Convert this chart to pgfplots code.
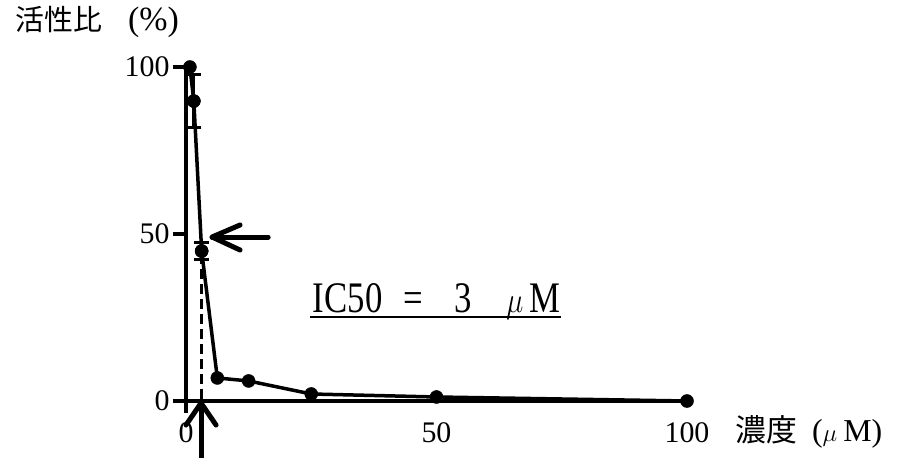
\documentclass[border=0pt]{standalone}
\usepackage{pgfplots}
\pgfplotsset{compat=1.18}
\usepackage{fontspec}
\usepackage{graphicx}
\setmainfont{Liberation Serif}
\newfontfamily\cjk{Noto Sans CJK JP}
\begin{document}
\begin{tikzpicture}
\begin{axis}[
  scale only axis, width=501bp, height=334bp,
  xmin=0, xmax=100, ymin=0, ymax=100,
  axis x line*=bottom, axis y line*=left,
  axis line style={line width=3.5bp, black},
  xtick={0,50,100}, ytick={0,50,100},
  xtick style={draw=none},
  ytick style={line width=3.5bp, black},
  tick align=outside, major tick length=13bp,
  tick label style={font=\fontsize{30}{32}\selectfont},
  /pgf/number format/assume math mode=true,
  xticklabel style={yshift=-5bp},
  clip=false,
]
\addplot[black, line width=3.5bp, mark=*, mark size=6.5bp, mark options={line width=0.5bp}]
  coordinates {(0.78,100)(1.56,89.8)(3.125,44.9)(6.25,6.9)(12.5,6.0)(25,2.1)(50,1.2)(100,0)};
\addplot[black, only marks, mark=*, mark size=6.5bp, mark options={line width=0.5bp},
  error bars/.cd, y dir=both, y explicit,
  error bar style={line width=3bp, black},
  error mark=-,
  error mark options={rotate=90, mark size=7.5bp, line width=3bp, black}]
  coordinates {(1.56,89.8) +- (0,8) (3.125,44.9) +- (0,2.5)};
% axis extension
\draw[line width=3.5bp] (axis cs:0,0) -- (axis cs:0,-3.6);
% dashed drop line
\draw[line width=3bp, dash pattern=on 10bp off 5bp] (axis cs:3,44) -- (axis cs:3,0);
% left arrow
\draw[line width=5bp, line cap=round, line join=round] (axis cs:16.4,49.1) -- (axis cs:5.2,49.1);
\draw[line width=5bp, line cap=round, line join=round] (axis cs:10.8,52.7) -- (axis cs:5.2,49.1) -- (axis cs:10.8,45.2);
% up arrow
\draw[line width=5bp, line cap=round, line join=round] (axis cs:3,-17.2) -- (axis cs:3,-0.6);
\draw[line width=5bp, line cap=round, line join=round] (axis cs:0,-7.2) -- (axis cs:3,-0.6) -- (axis cs:6,-7.2);
% texts
\node[anchor=west, inner sep=0] at (axis cs:-34.1,113.5)
  {{\fontsize{29}{30}\selectfont\cjk 活性比}\hspace{26bp}{\fontsize{34}{36}\selectfont(\%)}};
\node[anchor=west, inner sep=0] at (axis cs:109.6,-9.3)
  {{\fontsize{31}{32}\selectfont\cjk 濃度}\hspace{15bp}{\fontsize{32}{34}\selectfont($\mu$\hspace{6bp}M)}};
\node[anchor=base, inner sep=0] at (axis cs:50,26.6)
  {\resizebox{247bp}{29bp}{\fontsize{30}{32}\selectfont IC50\hspace{0.6em}=\hspace{0.9em}3\hspace{1em}$\mu$\,M}};
\draw[line width=2bp] (axis cs:24.8,25.1) -- (axis cs:74.9,25.1);
\coordinate (O) at (axis cs:0,0);
\end{axis}
\pgfresetboundingbox
\path ([shift={(-186bp,-57bp)}]O) rectangle ([shift={(711bp,401bp)}]O);
\end{tikzpicture}
\end{document}
